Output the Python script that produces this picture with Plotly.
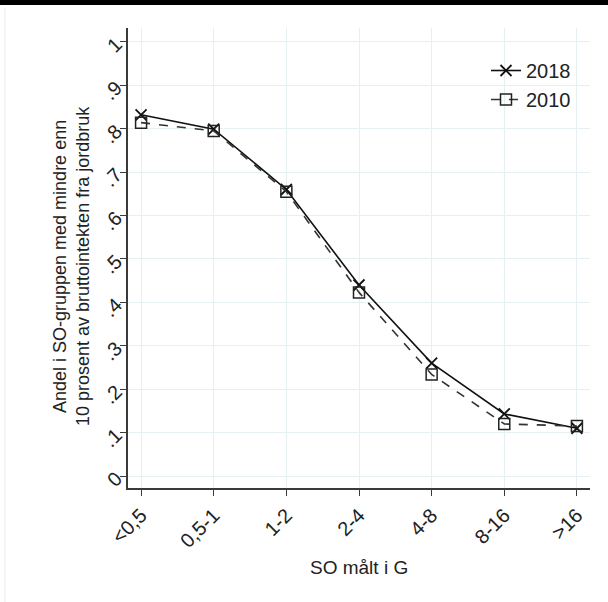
import plotly.graph_objects as go

categories = ["<0,5", "0,5-1", "1-2", "2-4", "4-8", "8-16", ">16"]
y2018 = [0.832, 0.799, 0.660, 0.440, 0.260, 0.143, 0.110]
y2010 = [0.814, 0.795, 0.655, 0.423, 0.234, 0.120, 0.115]
ytick_vals = [0, 0.1, 0.2, 0.3, 0.4, 0.5, 0.6, 0.7, 0.8, 0.9, 1.0]
ytick_text = ["0", ".1", ".2", ".3", ".4", ".5", ".6", ".7", ".8", ".9", "1"]

W, H = 608, 602
L, R, T, B = 128, 18, 28, 114
pw, ph = W - L - R, H - T - B

FONT = "Liberation Sans, Arial, sans-serif"
GRID = "#e6eff1"
AX = "#3a3a3a"

fig = go.Figure()
fig.add_trace(go.Scatter(
    x=list(range(len(categories))), y=y2018, name="2018", mode="lines+markers",
    line=dict(color="#111111", width=1.6),
    marker=dict(symbol="x-thin-open", size=11, line=dict(color="#111111", width=1.8)),
))
fig.add_trace(go.Scatter(
    x=list(range(len(categories))), y=y2010, name="2010", mode="lines+markers",
    line=dict(color="#333333", width=1.6, dash="dash"),
    marker=dict(symbol="square-open", size=11, color="#222222", line=dict(color="#222222", width=1.5)),
))

fig.update_layout(
    width=W, height=H,
    margin=dict(l=L, r=R, t=T, b=B),
    paper_bgcolor="white", plot_bgcolor="white",
    font=dict(family=FONT, size=20, color="#222222"),
    showlegend=True,
    legend=dict(x=(486 - L) / pw, y=1 - (51 - T) / ph, xanchor="left", yanchor="top",
                bgcolor="rgba(0,0,0,0)", font=dict(size=20), tracegroupgap=0),
    xaxis=dict(
        range=[-0.18, 6.18], tickmode="array", tickvals=list(range(len(categories))),
        ticktext=categories, tickangle=-45, showgrid=True, gridcolor=GRID, gridwidth=1,
        showline=True, linecolor=AX, linewidth=1.5, ticks="outside", ticklen=6,
        tickcolor=AX, tickwidth=1.2, zeroline=False, mirror=False, automargin=False,
        tickfont=dict(size=20),
    ),
    yaxis=dict(
        range=[-0.0276, 1.032], tickmode="array", tickvals=ytick_vals, ticktext=ytick_text,
        tickangle=-45, showgrid=True, gridcolor=GRID, gridwidth=1,
        showline=True, linecolor=AX, linewidth=1.5, ticks="outside", ticklen=6,
        tickcolor=AX, tickwidth=1.2, zeroline=False, automargin=False,
        tickfont=dict(size=20),
    ),
    annotations=[
        dict(text="Andel i SO-gruppen med mindre enn<br>10 prosent av bruttointekten fra jordbruk",
             textangle=-90, xref="paper", yref="paper", x=-(L - 71) / pw, y=1 - (266 - T) / ph,
             xanchor="center", yanchor="middle", showarrow=False, font=dict(size=18)),
        dict(text="SO målt i G", xref="paper", yref="paper", x=(359 - L) / pw, y=-(567 - T - ph) / ph,
             xanchor="center", yanchor="middle", showarrow=False, font=dict(size=19)),
    ],
    shapes=[
        dict(type="rect", xref="paper", yref="paper",
             x0=-L / pw - 0.01, x1=1 + R / pw + 0.01, y0=1 + (T - 5) / ph, y1=1 + T / ph + 0.01,
             fillcolor="black", line=dict(width=0), layer="above"),
        dict(type="line", xref="paper", yref="paper",
             x0=-(L - 5) / pw, x1=-(L - 5) / pw, y0=1 + (T - 8) / ph, y1=-(B) / ph,
             line=dict(color="#e4ebee", width=1)),
    ],
)

fig.write_html("out.html", config={"displayModeBar": False},
               post_script="document.body.style.margin='0';document.body.style.padding='0';")
